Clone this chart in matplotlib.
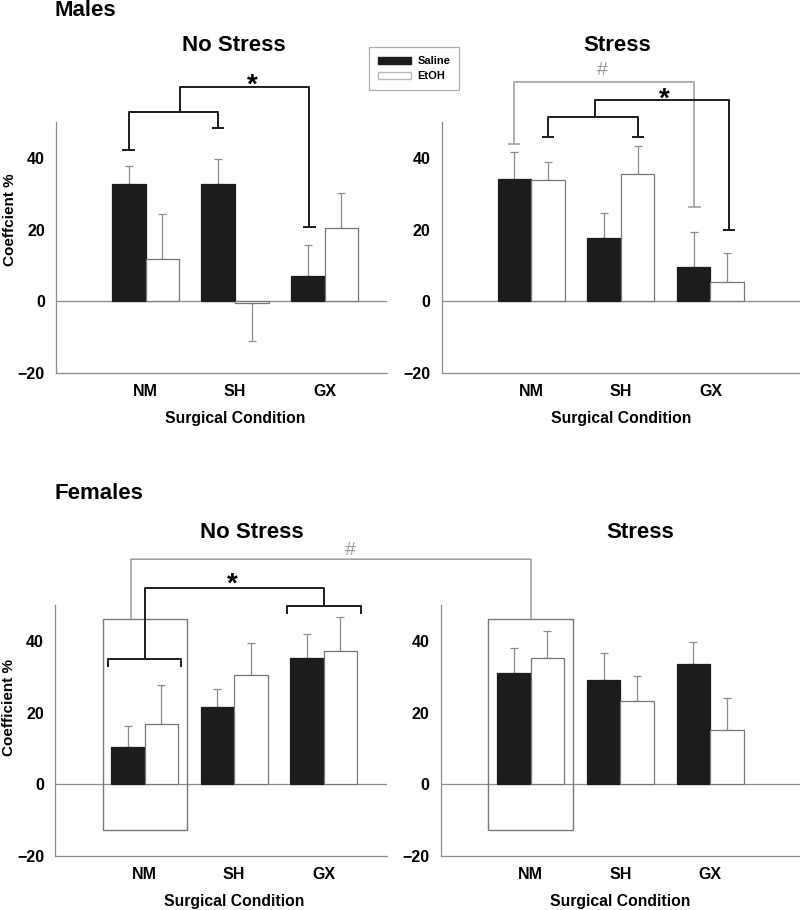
import numpy as np
import matplotlib
matplotlib.use("Agg")
import matplotlib.pyplot as plt
from matplotlib.patches import Patch, Rectangle, ConnectionPatch

plt.rcParams['font.family'] = ['Liberation Sans', 'DejaVu Sans']
plt.rcParams['font.weight'] = 'bold'

categories = ['NM', 'SH', 'GX']

# males, no stress
m_ns_saline = [32.6, 32.6, 7.0]
m_ns_saline_err = [5.0, 7.0, 8.6]
m_ns_etoh = [11.8, -0.4, 20.4]
m_ns_etoh_err = [12.6, 10.6, 9.9]
# males, stress
m_s_saline = [34.2, 17.6, 9.5]
m_s_saline_err = [7.5, 7.0, 9.8]
m_s_etoh = [33.8, 35.4, 5.3]
m_s_etoh_err = [5.1, 7.9, 8.2]
# females, no stress
f_ns_saline = [10.4, 21.7, 35.1]
f_ns_saline_err = [5.8, 4.8, 6.7]
f_ns_etoh = [16.9, 30.5, 37.3]
f_ns_etoh_err = [10.8, 8.9, 9.4]
# females, stress
f_s_saline = [31.1, 29.1, 33.6]
f_s_saline_err = [6.8, 7.5, 6.2]
f_s_etoh = [35.1, 23.2, 15.2]
f_s_etoh_err = [7.8, 7.0, 9.0]

yticks = [-20, 0, 20, 40]

DARK = '#1c1c1c'
GRAY = '#8c8c8c'
LGRAY = '#9a9a9a'
BW = 0.375

fig = plt.figure(figsize=(8, 9.1), dpi=100)


def panel(rect, xmax, saline, saline_err, etoh, etoh_err):
    ax = fig.add_axes(rect)
    x = np.arange(len(categories))
    for vals, errs, off, fc, ec in [(saline, saline_err, -BW / 2, DARK, DARK),
                                    (etoh, etoh_err, BW / 2, 'white', '#777777')]:
        ax.bar(x + off, vals, BW, color=fc, edgecolor=ec, linewidth=0.9, zorder=3)
        for xi, v, e in zip(x + off, vals, errs):
            yerr = [[0], [e]] if v >= 0 else [[e], [0]]
            ax.errorbar([xi], [v], yerr=yerr, fmt='none', ecolor=GRAY,
                        elinewidth=0.9, capsize=3, capthick=0.9, zorder=2)
    ax.axhline(0, color=GRAY, lw=0.9, zorder=1)
    ax.set_xlim(-1.0, xmax)
    ax.set_ylim(-20, 50)
    ax.set_yticks(yticks)
    ax.set_xticks(x)
    ax.set_xticklabels(categories)
    for s in ['top', 'right']:
        ax.spines[s].set_visible(False)
    for s in ['left', 'bottom']:
        ax.spines[s].set_color(GRAY)
        ax.spines[s].set_linewidth(0.9)
    ax.tick_params(length=0, labelsize=11.5)
    ax.tick_params(axis='y', pad=8)
    ax.tick_params(axis='x', pad=8)
    ax.set_xlabel('Surgical Condition', fontsize=11.3, fontweight='bold')
    ax.xaxis.set_label_coords((1 + 1.0) / (xmax + 1.0), -0.15)
    return ax


def line(ax, xs, ys, color=DARK, lw=1.4):
    ax.plot(xs, ys, color=color, lw=lw, clip_on=False, zorder=5,
            solid_capstyle='butt')


def cap(ax, x, y, color=DARK, lw=1.4, w=0.07):
    line(ax, [x - w, x + w], [y, y], color, lw)


def tick_bracket(ax, x0, x1, y, ydrop, color=DARK, lw=1.4):
    line(ax, [x0, x0, x1, x1], [ydrop, y, y, ydrop], color, lw)


ax1 = panel([0.070, 0.5901, 0.414, 0.2758], 2.70,
            m_ns_saline, m_ns_saline_err, m_ns_etoh, m_ns_etoh_err)
ax2 = panel([0.552, 0.5901, 0.448, 0.2758], 3.0,
            m_s_saline, m_s_saline_err, m_s_etoh, m_s_etoh_err)
ax3 = panel([0.069, 0.0593, 0.415, 0.2758], 2.71,
            f_ns_saline, f_ns_saline_err, f_ns_etoh, f_ns_etoh_err)
ax4 = panel([0.551, 0.0593, 0.449, 0.2758], 3.0,
            f_s_saline, f_s_saline_err, f_s_etoh, f_s_etoh_err)

# titles
fig.text(0.068, 1 - 11 / 910, 'Males', fontsize=16, fontweight='bold', va='center')
fig.text(0.068, 1 - 494 / 910, 'Females', fontsize=16, fontweight='bold', va='center')
for ax, t, xt, yt in [(ax1, 'No Stress', 0.99, 71.3), (ax2, 'Stress', 0.96, 71.3),
                      (ax3, 'No Stress', 1.2, 70.2), (ax4, 'Stress', 1.22, 70.2)]:
    ax.text(xt, yt, t, fontsize=16, fontweight='bold', ha='center', va='center',
            clip_on=False)

fig.text(10 / 800, 1 - 220 / 910, 'Coeffcient %', rotation=90, fontsize=11,
         fontweight='bold', ha='center', va='center')
fig.text(9 / 800, 1 - 707 / 910, 'Coefficient %', rotation=90, fontsize=11,
         fontweight='bold', ha='center', va='center')

# males no stress: NM/SH saline vs GX saline
line(ax1, [-0.19, -0.19, 0.81, 0.81], [42.1, 52.9, 52.9, 48.3])
cap(ax1, -0.19, 42.1)
cap(ax1, 0.81, 48.3)
line(ax1, [0.39, 0.39, 1.83, 1.83], [52.9, 59.7, 59.7, 20.6])
cap(ax1, 1.83, 20.6)
ax1.text(1.19, 60.2, '*', fontsize=20, fontweight='bold', ha='center', va='center',
         clip_on=False)

# males stress
line(ax2, [-0.19, -0.19, 1.82, 1.82], [43.8, 61.2, 61.2, 26.3], LGRAY, 1.1)
cap(ax2, -0.19, 43.8, LGRAY, 1.1)
cap(ax2, 1.82, 26.3, LGRAY, 1.1)
ax2.text(0.79, 64.5, '#', fontsize=14, color=LGRAY, fontweight='normal',
         ha='center', va='center', clip_on=False)
line(ax2, [0.19, 0.19, 1.19, 1.19], [45.9, 51.5, 51.5, 45.9])
cap(ax2, 0.19, 45.9)
cap(ax2, 1.19, 45.9)
line(ax2, [0.71, 0.71, 2.21, 2.21], [51.5, 56.1, 56.1, 19.8])
cap(ax2, 2.21, 19.8)
ax2.text(1.48, 56.3, '*', fontsize=20, fontweight='bold', ha='center', va='center',
         clip_on=False)

# females: boxes around NM
for ax in (ax3, ax4):
    ax.add_patch(Rectangle((-0.47, -12.7), 0.94, 58.8, fill=False,
                           edgecolor='#7a7a7a', lw=1.0, clip_on=False, zorder=4))

# females no stress: NM vs GX
tick_bracket(ax3, -0.41, 0.41, 34.9, 32.6)
line(ax3, [0.0, 0.0, 2.0, 2.0], [34.9, 54.7, 54.7, 49.6])
tick_bracket(ax3, 1.59, 2.42, 49.6, 47.5)
ax3.text(0.98, 55.8, '*', fontsize=20, fontweight='bold', ha='center', va='center',
         clip_on=False)

# females NM: no stress vs stress
line(ax3, [-0.15, -0.15], [46.1, 62.8], LGRAY, 1.1)
line(ax4, [0.0, 0.0], [46.1, 62.8], LGRAY, 1.1)
con = ConnectionPatch(xyA=(-0.15, 62.8), coordsA=ax3.transData,
                      xyB=(0.0, 62.8), coordsB=ax4.transData,
                      color=LGRAY, lw=1.1, zorder=5)
fig.add_artist(con)
ax3.text(2.30, 65.3, '#', fontsize=14, color=LGRAY, fontweight='normal',
         ha='center', va='center', clip_on=False)

# legend
handles = [Patch(facecolor=DARK, edgecolor=DARK, label='Saline'),
           Patch(facecolor='white', edgecolor='#bbbbbb', label='EtOH')]
leg = fig.legend(handles=handles, loc='upper left', bbox_to_anchor=(0.461, 0.948),
                 frameon=True, fancybox=False, handlelength=3.0,
                 handleheight=0.55, handletextpad=0.6, borderpad=0.8,
                 borderaxespad=0.0, labelspacing=0.45,
                 prop={'weight': 'bold', 'size': 8})
leg.get_frame().set_edgecolor('#999999')
leg.get_frame().set_linewidth(0.9)

fig.savefig('out.png', dpi=100, facecolor='white')
